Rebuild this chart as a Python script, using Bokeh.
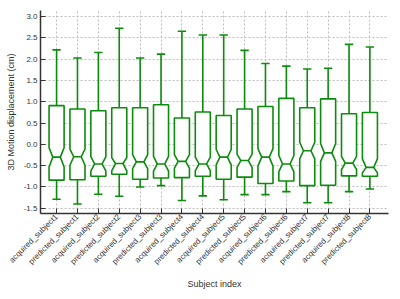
import math
from bokeh.plotting import figure
from bokeh.models import FixedTicker, Range1d, ColumnDataSource
from bokeh.embed import file_html
from bokeh.resources import INLINE

labels = []
for i in range(1, 9):
    labels.append(f"acquired_subject{i}")
    labels.append(f"predicted_subject{i}")

q3 = [0.91, 0.83, 0.79, 0.86, 0.86, 0.93, 0.62, 0.76, 0.68, 0.83, 0.89, 1.08, 0.86, 1.07, 0.72, 0.75]
median = [-0.30, -0.29, -0.46, -0.45, -0.41, -0.46, -0.40, -0.46, -0.30, -0.38, -0.30, -0.46, -0.15, -0.20, -0.44, -0.54]
notch_hi = [-0.08, -0.11, -0.29, -0.31, -0.24, -0.28, -0.24, -0.30, -0.12, -0.23, -0.10, -0.26, 0.05, 0.02, -0.28, -0.34]
notch_lo = [-0.53, -0.49, -0.63, -0.62, -0.57, -0.63, -0.56, -0.62, -0.48, -0.54, -0.51, -0.64, -0.34, -0.40, -0.59, -0.67]
q1 = [-0.84, -0.83, -0.75, -0.70, -0.82, -0.79, -0.78, -0.75, -0.82, -0.77, -0.92, -0.86, -0.97, -0.96, -0.74, -0.75]
whisk_hi = [2.22, 2.03, 2.16, 2.73, 2.03, 2.12, 2.66, 2.57, 2.57, 2.21, 1.90, 1.84, 1.77, 1.79, 2.35, 2.29]
whisk_lo = [-1.29, -1.40, -1.17, -1.22, -1.00, -0.97, -1.32, -1.21, -1.30, -1.18, -1.18, -1.11, -1.37, -1.37, -1.11, -1.05]
yticks = [-1.5, -1.0, -0.5, 0.0, 0.5, 1.0, 1.5, 2.0, 2.5, 3.0]

pos = list(range(1, len(labels) + 1))
hw = 0.36   # box half width
nw = 0.18   # notch half width
cw = 0.20   # cap half width
GREEN = "#0c8c0c"
FONT = "Liberation Sans"

p = figure(width=396, height=295, output_backend="svg", toolbar_location=None,
           x_range=Range1d(0.23, 16.89), y_range=Range1d(-1.624, 3.146),
           min_border_left=40, min_border_right=8, min_border_top=10, min_border_bottom=82,
           background_fill_color="white", border_fill_color="white")
p.outline_line_color = None

xs, ys = [], []
for x, a, nh, m, nl, b in zip(pos, q3, notch_hi, median, notch_lo, q1):
    xs.append([x - hw, x + hw, x + hw, x + nw, x + hw, x + hw, x - hw, x - hw, x - nw, x - hw])
    ys.append([a, a, nh, m, nl, b, b, nl, m, nh])
p.patches(xs, ys, fill_color="white", line_color=GREEN, line_width=1.6)

src = ColumnDataSource(dict(x=pos, q3=q3, q1=q1, med=median, hi=whisk_hi, lo=whisk_lo,
                            ml=[x - nw for x in pos], mr=[x + nw for x in pos],
                            cl=[x - cw for x in pos], cr=[x + cw for x in pos]))
p.segment("ml", "med", "mr", "med", source=src, line_color=GREEN, line_width=1.6)
p.segment("x", "q3", "x", "hi", source=src, line_color=GREEN, line_width=1.6)
p.segment("x", "q1", "x", "lo", source=src, line_color=GREEN, line_width=1.6)
p.segment("cl", "hi", "cr", "hi", source=src, line_color=GREEN, line_width=1.6)
p.segment("cl", "lo", "cr", "lo", source=src, line_color=GREEN, line_width=1.6)

p.xaxis.ticker = FixedTicker(ticks=pos)
p.xaxis.major_label_overrides = {x: l for x, l in zip(pos, labels)}
p.xaxis.major_label_orientation = math.pi / 4
p.yaxis.ticker = FixedTicker(ticks=yticks)
p.yaxis.major_label_overrides = {v: f"{v:.1f}" for v in yticks}

for ax in (p.xaxis[0], p.yaxis[0]):
    ax.axis_line_color = "#333333"
    ax.axis_line_width = 1.5
    ax.major_tick_line_color = "#333333"
    ax.major_tick_in = 5
    ax.major_tick_out = 0
    ax.minor_tick_line_color = None
    ax.major_label_text_font = FONT
    ax.major_label_text_font_size = "8px"
    ax.major_label_text_color = "#333333"
    ax.axis_label_text_font = FONT
    ax.axis_label_text_font_size = "9px"
    ax.axis_label_text_font_style = "normal"
    ax.axis_label_text_color = "#333333"

p.xaxis.axis_label = "Subject index"
p.yaxis.axis_label = "3D Motion displacement (cm)"
p.xaxis.major_label_standoff = 2
p.yaxis.major_label_standoff = 3
p.xaxis.axis_label_standoff = 7
p.yaxis.axis_label_standoff = 5

for g in (p.xgrid[0], p.ygrid[0]):
    g.grid_line_color = "#bdbdbd"
    g.grid_line_dash = "2 2"
    g.grid_line_width = 1

open("out.html", "w").write(file_html(p, INLINE))
